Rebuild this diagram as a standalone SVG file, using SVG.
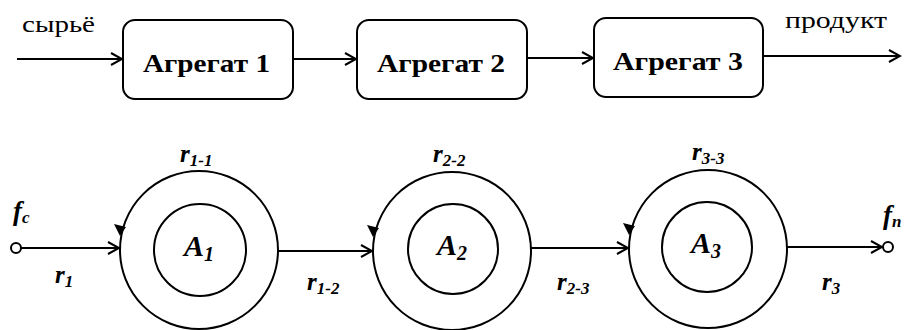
<svg xmlns="http://www.w3.org/2000/svg" width="905" height="330" viewBox="0 0 905 330">
<style>
.ln{stroke:#000;stroke-width:2;fill:none}
.box{stroke:#000;stroke-width:2;fill:#fff}
text{font-family:'Liberation Serif','Times New Roman',Tinos,'Noto Serif','DejaVu Serif',FreeSerif,Times,serif;fill:#000}
.t{font-size:24px}
.b{font-size:26px;font-weight:bold}
.i{font-weight:bold;font-style:italic}
</style>
<defs>
<marker id="open" markerWidth="14" markerHeight="14" refX="12" refY="7" orient="auto" markerUnits="userSpaceOnUse">
<path d="M1,1 L12,7 L1,13" fill="none" stroke="#000" stroke-width="2"/>
</marker>
</defs>
<g id="n1"><rect class="box" x="123" y="20" width="170" height="79" rx="12"/><text class="b" x="143" y="72" textLength="127" lengthAdjust="spacingAndGlyphs">Агрегат 1</text></g>
<g id="n2"><rect class="box" x="357" y="20" width="170" height="79" rx="12"/><text class="b" x="377" y="72" textLength="128" lengthAdjust="spacingAndGlyphs">Агрегат 2</text></g>
<g id="n3"><rect class="box" x="594" y="18" width="169" height="79" rx="12"/><text class="b" x="613" y="70" textLength="130" lengthAdjust="spacingAndGlyphs">Агрегат 3</text></g>
<text class="t" x="22" y="32" textLength="73" lengthAdjust="spacingAndGlyphs">сырьё</text>
<text class="t" x="785" y="28" textLength="102" lengthAdjust="spacingAndGlyphs">продукт</text>
<g id="c1"><circle class="ln" cx="199" cy="250" r="79"/><circle class="ln" cx="200" cy="250" r="46"/><text class="i" x="184" y="256" font-size="30">A<tspan font-size="20" dy="5">1</tspan></text></g>
<g id="c2"><circle class="ln" cx="452" cy="251" r="79"/><circle class="ln" cx="453" cy="249" r="45"/><text class="i" x="437" y="255" font-size="30">A<tspan font-size="20" dy="5">2</tspan></text></g>
<g id="c3"><circle class="ln" cx="708" cy="249" r="79"/><circle class="ln" cx="707" cy="247" r="45"/><text class="i" x="691" y="253" font-size="30">A<tspan font-size="20" dy="5">3</tspan></text></g>
<g id="fc"><circle cx="16" cy="248" r="5" fill="#fff" stroke="#000" stroke-width="2"/></g>
<g id="fn"><circle cx="888" cy="247" r="5" fill="#fff" stroke="#000" stroke-width="2"/></g>
<g id="connectors">
<line class="ln" x1="17" y1="59" x2="122" y2="59" marker-end="url(#open)"/>
<line class="ln" x1="293" y1="59" x2="356" y2="59" marker-end="url(#open)"/>
<line class="ln" x1="527" y1="58" x2="593" y2="58" marker-end="url(#open)"/>
<line class="ln" x1="763" y1="56" x2="900" y2="56" marker-end="url(#open)"/>
<line class="ln" x1="21" y1="248" x2="119" y2="248" marker-end="url(#open)"/>
<line class="ln" x1="278" y1="251" x2="372" y2="251" marker-end="url(#open)"/>
<line class="ln" x1="531" y1="248" x2="628" y2="248" marker-end="url(#open)"/>
<line class="ln" x1="787" y1="247" x2="882" y2="247" marker-end="url(#open)"/>
<path d="M114,224 L126,227 L120,236 Z" fill="#000"/>
<path d="M367,225 L379,228 L373,237 Z" fill="#000"/>
<path d="M623,223 L635,226 L629,235 Z" fill="#000"/>
</g>
<g>
<text class="i" x="180" y="162" font-size="25">r<tspan font-size="17" dy="4">1-1</tspan></text>
<text class="i" x="433" y="162" font-size="25">r<tspan font-size="17" dy="4">2-2</tspan></text>
<text class="i" x="692" y="160" font-size="25">r<tspan font-size="17" dy="4">3-3</tspan></text>
<text class="i" x="55" y="283" font-size="25">r<tspan font-size="17" dy="4">1</tspan></text>
<text class="i" x="307" y="290" font-size="25">r<tspan font-size="17" dy="4">1-2</tspan></text>
<text class="i" x="557" y="290" font-size="25">r<tspan font-size="17" dy="4">2-3</tspan></text>
<text class="i" x="822" y="290" font-size="25">r<tspan font-size="17" dy="4">3</tspan></text>
<text class="i" x="13" y="220" font-size="27">f<tspan font-size="17" dy="3">c</tspan></text>
<text class="i" x="883" y="224" font-size="27">f<tspan font-size="17" dy="3">n</tspan></text>
</g>
</svg>
